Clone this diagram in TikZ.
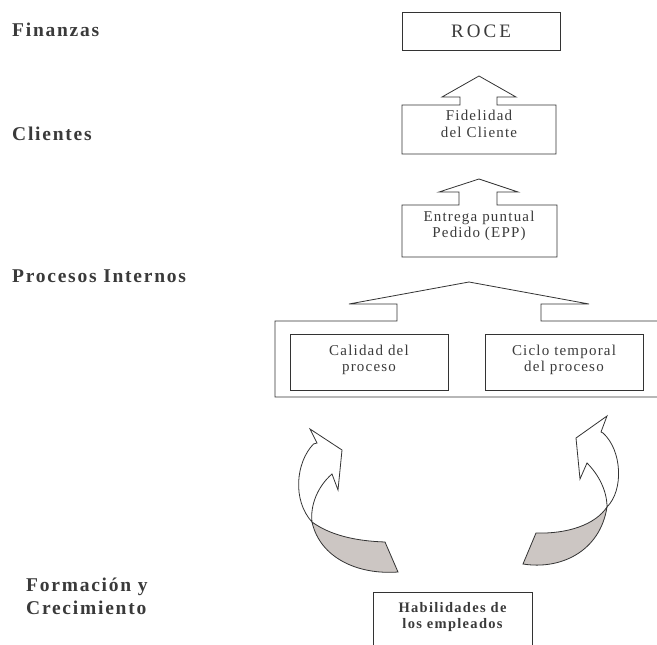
\documentclass[tikz,border=0pt]{standalone}
\usepackage{fontspec}
\setmainfont{Liberation Serif}
\newfontfamily\boxfont[LetterSpace=8]{Liberation Serif}
\newfontfamily\titlefont[LetterSpace=16]{Liberation Serif}
\newfontfamily\tagfont[LetterSpace=9]{Liberation Serif}
\definecolor{linegray}{HTML}{333333}
\definecolor{textgray}{HTML}{3A3A3A}
\definecolor{ribbon}{HTML}{CCC6C3}
\begin{document}
\begin{tikzpicture}[x=1pt,y=-1pt,
  outline/.style={draw=linegray,line width=0.8pt,line join=miter},
  frame/.style={inner sep=0pt,outer sep=0pt},
  boxlabel/.style={font=\boxfont\fontsize{15}{16.5}\selectfont,text=textgray,align=center,inner sep=0pt},
  skilllabel/.style={font=\tagfont\bfseries\fontsize{14.5}{16}\selectfont,text=textgray,align=center,inner sep=0pt},
  rowtag/.style={font=\tagfont\bfseries\fontsize{19.5}{23}\selectfont,text=textgray,inner sep=0pt,anchor=base west}]
\useasboundingbox (0,0) rectangle (657,645);

% perspective titles
\node[rowtag] (finanzas) at (12,37) {Finanzas};
\node[rowtag] (clientes) at (12,140) {Clientes};
\node[rowtag] (procesos) at (12,282) {Procesos Internos};
\node[rowtag] (formacion) at (26,591) {Formación y};
\node[rowtag] (crecimiento) at (26,614) {Crecimiento};

% finance objective
\node[frame,outline,minimum width=158pt,minimum height=38pt,
      font=\titlefont\fontsize{19}{21}\selectfont,text=textgray] (roce) at (481,31) {ROCE};

% customer objective with block arrow on top
\node[frame,minimum width=154pt,minimum height=49pt] (fid) at (479,129.5) {};
\draw[outline] (fid.north west) -- ++(58,0) -- ++(0,-8) -- ++(-18,0) -- ++(37,-21)
  -- ++(37,21) -- ++(-19,0) -- ++(0,8) -- (fid.north east) -- (fid.south east)
  -- (fid.south west) -- cycle;
\node[boxlabel] (fidtext) at (479,124) {Fidelidad\\del Cliente};

% on-time delivery with block arrow on top
\node[frame,minimum width=155pt,minimum height=52pt] (epp) at (479.5,231) {};
\draw[outline] (epp.north west) -- ++(57,0) -- ++(0,-13) -- ++(-20,0) -- ++(40,-13)
  -- ++(39,13) -- ++(-21,0) -- ++(0,13) -- (epp.north east) -- (epp.south east)
  -- (epp.south west) -- cycle;
\node[boxlabel] (epptext) at (479,226) {Entrega puntual\\Pedido (EPP)};

% internal processes frame with wide block arrow
\coordinate (pframe) at (275,321);
\draw[outline] (662,321) -- (541,321) -- (541,304) -- (589,304) -- (469,282)
  -- (349,304) -- (397,304) -- (397,321) -- (pframe) -- (275,397) -- (662,397);
\node[frame,outline,minimum width=158pt,minimum height=56pt] (calidad) at (369,362) {};
\node[boxlabel] (calidadtext) at (369,360) {Calidad del\\proceso};
\node[frame,outline,minimum width=158pt,minimum height=56pt] (ciclo) at (564,362) {};
\node[boxlabel] (ciclotext) at (564,360) {Ciclo temporal\\del proceso};

% learning and growth box, open at the bottom
\node[frame,minimum width=159pt,minimum height=56pt] (habil) at (452.5,620) {};
\draw[outline] (habil.south west) -- (habil.north west) -- (habil.north east) -- (habil.south east);
\node[skilllabel] (habiltext) at (452.5,617) {Habilidades de\\los empleados};

% left curved ribbon arrow
\filldraw[outline,fill=ribbon] (312,522) .. controls (330,535) and (355,541) .. (385,542)
  -- (398,572) .. controls (358,575) and (320,558) .. cycle;
\draw[outline,fill=white] (310,429) -- (342,450) -- (338,490) -- (332,474)
  .. controls (318,486) and (310,505) .. (312,522)
  .. controls (292,500) and (296,462) .. (313.5,444) -- (317,443) -- cycle;

% right curved ribbon arrow
\filldraw[outline,fill=ribbon] (607,507) .. controls (595,525) and (567,534) .. (536,533)
  -- (523,564) .. controls (560,570) and (600,552) .. cycle;
\draw[outline,fill=white] (607,416) -- (576,438) -- (580,479) -- (587,463)
  .. controls (598,474) and (607,490) .. (607,507)
  .. controls (624,490) and (622,450) .. (603,433) -- (601,432) -- cycle;
\end{tikzpicture}
\end{document}
